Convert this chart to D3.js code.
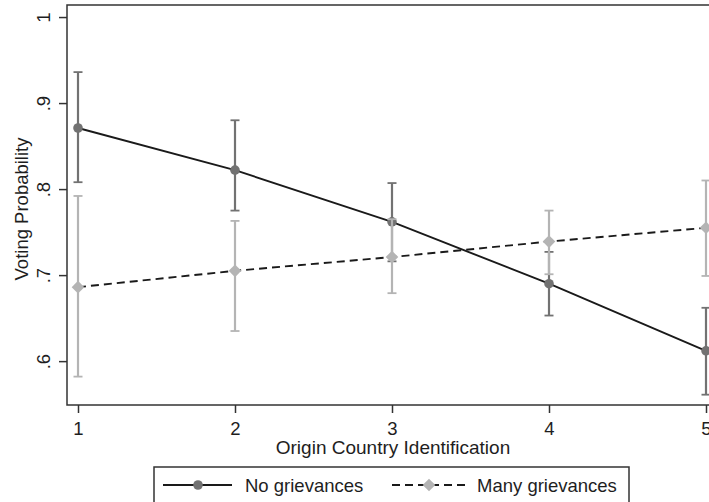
<!DOCTYPE html>
<html lang="en">
  <head>
    <meta charset="UTF-8" />
    <title>Voting Probability by Origin Country Identification</title>
    <script src="https://d3js.org/d3.v7.min.js"></script>
    <style>
      body {
        margin: 0;
        background: white;
      }
      svg {
        display: block;
        font-family: "Liberation Sans", Arial, sans-serif;
      }
      .axis text {
        font-size: 18.5px;
        fill: #1e1e1e;
      }
      .axis path,
      .axis line {
        stroke: #333;
        stroke-width: 1.5;
      }
    </style>
  </head>
  <body>
    <script>
      // chart values
      const identification = [1, 2, 3, 4, 5];
      const noGrievances = [0.871, 0.822, 0.762, 0.69, 0.612];
      const noLow = [0.808, 0.775, 0.716, 0.653, 0.561];
      const noHigh = [0.936, 0.88, 0.807, 0.727, 0.662];
      const manyGrievances = [0.686, 0.705, 0.721, 0.739, 0.755];
      const manyLow = [0.582, 0.635, 0.679, 0.701, 0.699];
      const manyHigh = [0.792, 0.763, 0.765, 0.775, 0.81];
      const yTicks = [0.6, 0.7, 0.8, 0.9, 1];
      const xTicks = [1, 2, 3, 4, 5];

      const width = 709,
        height = 502;
      const svg = d3
        .select("body")
        .append("svg")
        .attr("width", width)
        .attr("height", height);

      // plot region (Stata style frame, right edge falls outside the image)
      const frame = { left: 67, right: 722, top: 5, bottom: 405 };
      const x = d3.scaleLinear().domain([1, 5]).range([78, 706]);
      const y = d3.scaleLinear().domain([0.549, 1.014]).range([405, 5]);

      svg
        .append("rect")
        .attr("x", frame.left)
        .attr("y", frame.top)
        .attr("width", frame.right - frame.left)
        .attr("height", frame.bottom - frame.top)
        .attr("fill", "none")
        .attr("stroke", "#333")
        .attr("stroke-width", 1.5);

      // y axis, labels turned sideways
      const yAxis = svg
        .append("g")
        .attr("class", "axis")
        .attr("transform", `translate(${frame.left},0)`)
        .call(
          d3
            .axisLeft(y)
            .tickValues(yTicks)
            .tickSize(8)
            .tickFormat((d) => (d === 1 ? "1" : d3.format(".1f")(d).replace(/^0/, "")))
        );
      yAxis.select(".domain").remove();
      yAxis
        .selectAll("text")
        .attr("x", null)
        .attr("dy", null)
        .attr("text-anchor", "middle")
        .attr("transform", "translate(-17,0) rotate(-90)");

      const xAxis = svg
        .append("g")
        .attr("class", "axis")
        .attr("transform", `translate(0,${frame.bottom})`)
        .call(d3.axisBottom(x).tickValues(xTicks).tickSize(8).tickFormat(d3.format("d")));
      xAxis.select(".domain").remove();
      xAxis.selectAll("text").attr("y", 30).attr("dy", null);

      svg
        .append("text")
        .attr("transform", "translate(28,209) rotate(-90)")
        .attr("text-anchor", "middle")
        .attr("font-size", 18.5)
        .attr("fill", "#1e1e1e")
        .text("Voting Probability");

      svg
        .append("text")
        .attr("x", 393)
        .attr("y", 454)
        .attr("text-anchor", "middle")
        .attr("font-size", 19)
        .attr("fill", "#1e1e1e")
        .text("Origin Country Identification");

      const darkGrey = "#727272";
      const lightGrey = "#b4b4b4";

      const series = [
        { values: noGrievances, low: noLow, high: noHigh, color: darkGrey, dash: null, shape: "circle" },
        { values: manyGrievances, low: manyLow, high: manyHigh, color: lightGrey, dash: "8,5", shape: "diamond" },
      ];

      const line = d3
        .line()
        .x((d) => x(d[0]))
        .y((d) => y(d[1]));

      function drawMarker(g, shape, color, cx, cy) {
        if (shape === "circle") {
          g.append("circle").attr("cx", cx).attr("cy", cy).attr("r", 4.8).attr("fill", color);
        } else {
          g.append("path")
            .attr("d", d3.symbol().type(d3.symbolSquare).size(80)())
            .attr("transform", `translate(${cx},${cy}) rotate(45)`)
            .attr("fill", color);
        }
      }

      series.forEach((s) => {
        const g = svg.append("g");
        const pts = identification.map((v, i) => [v, s.values[i]]);

        // confidence intervals
        identification.forEach((v, i) => {
          const cx = x(v);
          g.append("line")
            .attr("x1", cx)
            .attr("x2", cx)
            .attr("y1", y(s.low[i]))
            .attr("y2", y(s.high[i]))
            .attr("stroke", s.color)
            .attr("stroke-width", 2.2);
          [s.low[i], s.high[i]].forEach((b) => {
            g.append("line")
              .attr("x1", cx - 4.5)
              .attr("x2", cx + 4.5)
              .attr("y1", y(b))
              .attr("y2", y(b))
              .attr("stroke", s.color)
              .attr("stroke-width", 1.8);
          });
        });

        g.append("path")
          .attr("d", line(pts))
          .attr("fill", "none")
          .attr("stroke", "#1a1a1a")
          .attr("stroke-width", 1.9)
          .attr("stroke-dasharray", s.dash);

        pts.forEach((p) => drawMarker(g, s.shape, s.color, x(p[0]), y(p[1])));
      });

      // legend
      const legend = svg.append("g");
      legend
        .append("rect")
        .attr("x", 154)
        .attr("y", 467)
        .attr("width", 475)
        .attr("height", 42)
        .attr("fill", "white")
        .attr("stroke", "#333")
        .attr("stroke-width", 1.5);

      const legendItems = [
        { label: "No grievances", x1: 163, x2: 232, mx: 198, tx: 245 },
        { label: "Many grievances", x1: 392, x2: 465, mx: 429, tx: 477 },
      ];
      legendItems.forEach((item, i) => {
        const s = series[i];
        legend
          .append("line")
          .attr("x1", item.x1)
          .attr("x2", item.x2)
          .attr("y1", 485)
          .attr("y2", 485)
          .attr("stroke", "#1a1a1a")
          .attr("stroke-width", 1.9)
          .attr("stroke-dasharray", s.dash);
        drawMarker(legend, s.shape, s.color, item.mx, 485);
        legend
          .append("text")
          .attr("x", item.tx)
          .attr("y", 492)
          .attr("font-size", 18.5)
          .attr("fill", "#1e1e1e")
          .text(item.label);
      });
    </script>
  </body>
</html>
